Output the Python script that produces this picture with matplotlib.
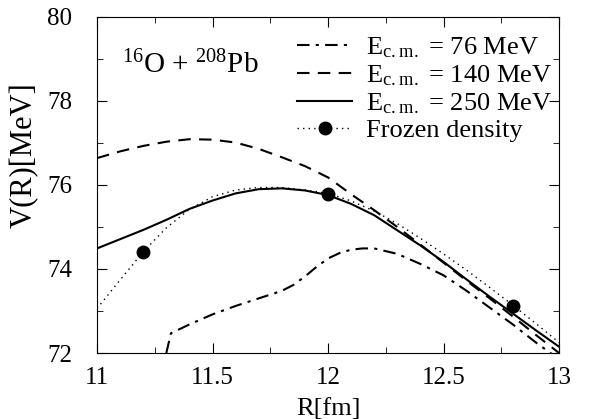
import numpy as np
import matplotlib
matplotlib.use('Agg')
import matplotlib.pyplot as plt
from matplotlib.ticker import MultipleLocator, FuncFormatter

plt.rcParams['font.family'] = 'Liberation Serif'
plt.rcParams['mathtext.fontset'] = 'custom'
plt.rcParams['mathtext.rm'] = 'Liberation Serif'
plt.rcParams['mathtext.default'] = 'regular'

# E_cm = 76 MeV (dash-dot)
x76 = [11.30, 11.32, 11.4, 11.5, 11.6, 11.7, 11.8, 11.85, 11.9, 11.95, 12.0, 12.05,
       12.1, 12.15, 12.2, 12.3, 12.4, 12.5, 12.6, 12.7, 12.8, 12.9, 13.0]
y76 = [72.0, 72.47, 72.68, 72.92, 73.12, 73.30, 73.48, 73.62, 73.82, 74.05, 74.25, 74.38,
       74.46, 74.49, 74.49, 74.36, 74.12, 73.85, 73.48, 73.08, 72.68, 72.25, 71.85]

# common R grid for the other curves
r = [11.0, 11.1, 11.2, 11.3, 11.4, 11.5, 11.6, 11.7, 11.8, 11.9, 12.0,
     12.1, 12.2, 12.3, 12.4, 12.5, 12.6, 12.7, 12.8, 12.9, 13.0]
y140 = [76.64, 76.80, 76.93, 77.03, 77.09, 77.08, 77.01, 76.86, 76.66, 76.45, 76.18,
        75.78, 75.40, 75.00, 74.58, 74.15, 73.72, 73.30, 72.87, 72.43, 72.00]
y250 = [74.49, 74.71, 74.93, 75.17, 75.43, 75.63, 75.80, 75.90, 75.92, 75.87, 75.76,
        75.55, 75.28, 74.92, 74.56, 74.17, 73.75, 73.34, 72.94, 72.54, 72.15]
yfro = [73.06, 73.74, 74.41, 74.98, 75.42, 75.72, 75.88, 75.94, 75.94, 75.88, 75.80,
        75.62, 75.38, 75.08, 74.73, 74.36, 73.97, 73.56, 73.14, 72.70, 72.25]
# frozen density calculated points
xpts = [11.2, 12.0, 12.8]
ypts = [74.41, 75.78, 73.12]

fig = plt.figure(figsize=(6, 4.19), dpi=100)
ax = fig.add_axes([0.1617, 0.1575, 0.77, 0.802])

ax.plot(x76, y76, color='k', lw=1.5, dashes=(6, 3, 1.5, 3),
        label=r'E$_{c.m.}$ = 76 MeV')
ax.plot(r, y140, color='k', lw=1.5, dashes=(6, 4),
        label=r'E$_{c.m.}$ = 140 MeV')
ax.plot(r, y250, color='k', lw=1.5, ls='-',
        label=r'E$_{c.m.}$ = 250 MeV')
ax.plot(r, yfro, color='k', lw=1.0, ls=(0, (1, 3)))
ax.plot(xpts, ypts, 'o', color='k', ms=9)
# legend entry for frozen density (dotted line with marker)
ax.plot([], [], color='k', lw=1.0, ls=(0, (1, 3)), marker='o', ms=9,
        label='Frozen density')

ax.set_xlim(11, 13)
ax.set_ylim(72, 80)
ax.xaxis.set_major_locator(MultipleLocator(0.5))
ax.xaxis.set_minor_locator(MultipleLocator(0.25))
ax.yaxis.set_major_locator(MultipleLocator(2))
ax.yaxis.set_minor_locator(MultipleLocator(1))
ax.xaxis.set_major_formatter(FuncFormatter(lambda v, p: '%g' % v))
ax.tick_params(which='both', direction='in', top=True, right=True, labelsize=18)
ax.tick_params(axis='x', pad=10)
ax.tick_params(axis='y', pad=18)
ax.tick_params(which='major', length=7)
ax.tick_params(which='minor', length=4)

ax.set_xlabel('R[fm]', fontsize=19)
ax.set_ylabel('V(R)[MeV]', fontsize=22)
ax.xaxis.set_label_coords(0.5, -0.135)
ax.yaxis.set_label_coords(-0.125, 0.59)

ax.text(0.054, 0.833, r'$^{16}$O + $^{208}$Pb', transform=ax.transAxes,
        fontsize=21, va='baseline')

ax.legend(loc='upper left', bbox_to_anchor=(0.433, 0.945), frameon=False, fontsize=19,
          handlelength=2.08, handletextpad=0.53, labelspacing=0.12,
          borderpad=0, borderaxespad=0)

fig.savefig('out.png', dpi=100)
